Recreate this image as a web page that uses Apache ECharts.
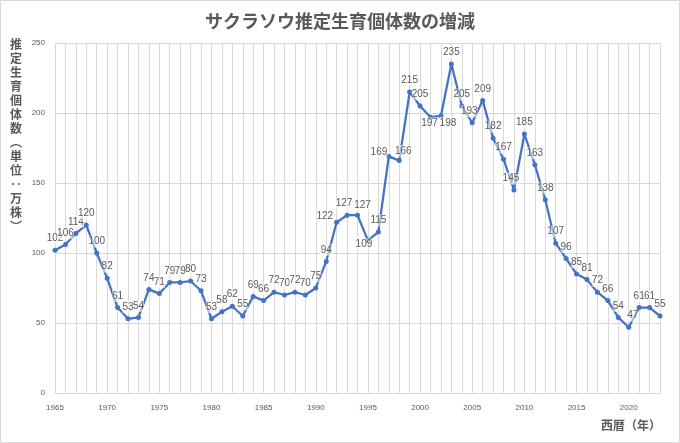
<!DOCTYPE html>
<html>
<head>
<meta charset="utf-8">
<script src="https://cdn.jsdelivr.net/npm/echarts@6/dist/echarts.min.js"></script>
<style>
html,body{margin:0;padding:0;background:#fff;}
#c{width:680px;height:443px;}
</style>
</head>
<body>
<div id="c"></div>
<script>
const years = [];
for (let y = 1965; y <= 2023; y++) years.push(String(y));
const counts = [102,106,114,120,100,82,61,53,54,74,71,79,79,80,73,53,58,62,55,69,66,72,70,72,70,75,
  94,122,127,127,109,115,169,166,215,205,197,198,235,205,193,209,182,167,145,185,163,138,107,96,85,81,72,66,54,47,61,61,55];
const yTicks = [0, 50, 100, 150, 200, 250];
const titleText = 'サクラソウ推定生育個体数の増減';
const yName = '推定生育個体数︵単位‥万株︶';
const xName = '西暦（年）';

// label placement tweaks (by year)
const labelTweaks = {
  '1992': {position: 'left', offset: [2, -6]},
  '1993': {position: 'top', offset: [-3, 0]},
  '1994': {position: 'top', offset: [5, 2]},
  '1995': {position: 'inside', offset: [-4, 4]},
  '1997': {position: 'left', offset: [4, -4]},
  '1998': {position: 'top', offset: [4, 2]},
  '2001': {position: 'inside', offset: [-1, 6]},
  '2002': {position: 'inside', offset: [7, 7]},
  '2005': {position: 'top', offset: [-3, 0]},
  '2009': {position: 'top', offset: [-3, 0]},
  '2020': {position: 'top', offset: [4, 0]}
};

const seriesData = counts.map((v, i) => {
  const t = labelTweaks[years[i]];
  return t ? {value: v, label: t} : v;
});

const chart = echarts.init(document.getElementById('c'));
chart.setOption({
  animation: false,
  backgroundColor: '#fff',
  title: {
    text: titleText, left: 'center', top: 7,
    textStyle: {fontFamily: 'Noto Sans CJK JP', fontSize: 18, fontWeight: 'bold', color: '#595959'}
  },
  grid: {left: 55, right: 20, top: 43, bottom: 50},
  xAxis: {
    type: 'category', data: years, boundaryGap: false,
    axisLine: {lineStyle: {color: '#d9d9d9'}},
    axisTick: {show: false},
    axisLabel: {interval: 4, color: '#595959', fontSize: 8, fontFamily: 'Liberation Sans', margin: 11},
    splitLine: {show: true, interval: 0, lineStyle: {color: '#d9d9d9', width: 1}}
  },
  yAxis: {
    type: 'value', min: yTicks[0], max: yTicks[yTicks.length - 1], interval: 50,
    axisLine: {show: false}, axisTick: {show: false},
    axisLabel: {color: '#595959', fontSize: 8, fontFamily: 'Liberation Sans', margin: 10},
    splitLine: {lineStyle: {color: '#d9d9d9', width: 1}}
  },
  graphic: [
    {type: 'rect', shape: {x: 0.5, y: 0.5, width: 679, height: 442},
     style: {fill: 'none', stroke: '#d9d9d9', lineWidth: 1}, silent: true},
    {type: 'text', left: 10, top: 37,
     style: {text: yName.split('').join('\n'), font: 'bold 12px "Noto Sans CJK JP"', fill: '#595959', lineHeight: 14, align: 'center'}},
    {type: 'text', right: 19, top: 419,
     style: {text: xName, font: 'bold 12px "Noto Sans CJK JP"', fill: '#595959'}}
  ],
  series: [{
    type: 'line', data: seriesData,
    symbol: 'circle', symbolSize: 5,
    lineStyle: {color: '#4472C4', width: 2.25},
    itemStyle: {color: '#4472C4'},
    label: {
      show: true, position: 'top', distance: 3,
      color: '#595959', fontSize: 10, fontFamily: 'Liberation Sans',
      backgroundColor: 'rgba(255,255,255,0.55)', padding: [1, 0]
    }
  }]
});
</script>
</body>
</html>
